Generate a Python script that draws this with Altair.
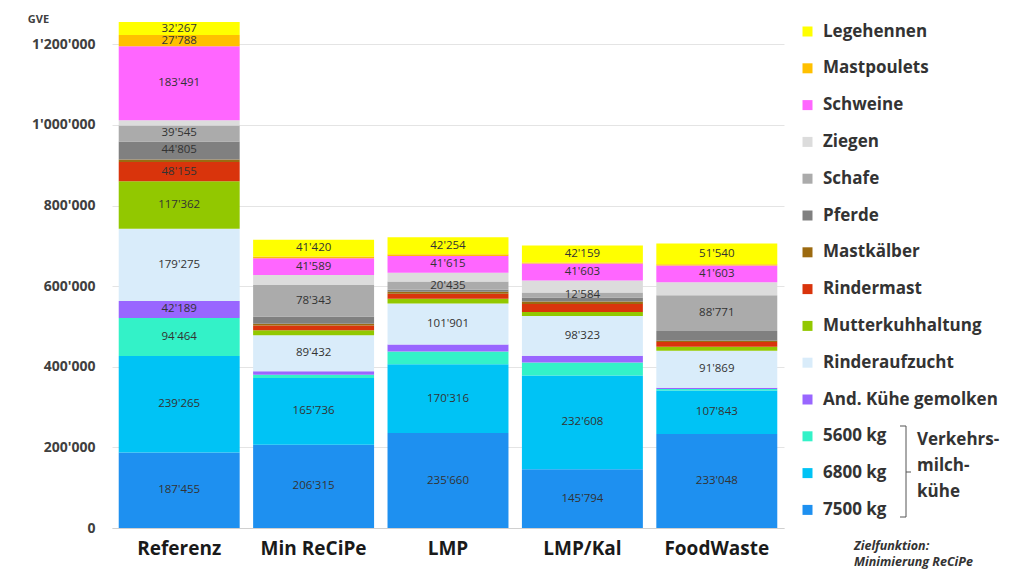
import altair as alt
import pandas as pd

# Scenarios (bars) and livestock categories (legend order, top to bottom)
scenarios = ["Referenz", "Min ReCiPe", "LMP", "LMP/Kal", "FoodWaste"]
categories = [
    "Legehennen", "Mastpoulets", "Schweine", "Ziegen", "Schafe", "Pferde",
    "Mastkälber", "Rindermast", "Mutterkuhhaltung", "Rinderaufzucht",
    "And. Kühe gemolken", "5600 kg", "6800 kg", "7500 kg",
]
colors = [
    "#FFFF00", "#FFC000", "#FF66FF", "#DCDCDC", "#ABABAB", "#808080",
    "#9C6A10", "#D9340C", "#92C800", "#D9ECFA",
    "#9966FF", "#33F2C8", "#00C3F5", "#1E90F0",
]

# GVE per scenario (Referenz, Min ReCiPe, LMP, LMP/Kal, FoodWaste)
legehennen = [32267, 41420, 42254, 42159, 51540]
mastpoulets = [27788, 4000, 4000, 3000, 3000]
schweine = [183491, 41589, 41615, 41603, 41603]
ziegen = [13000, 25000, 22000, 30000, 32000]
schafe = [39545, 78343, 20435, 12584, 88771]
pferde = [44805, 18000, 5000, 10000, 24000]
mastkaelber = [6000, 4000, 5000, 6000, 3000]
rindermast = [48155, 12000, 12000, 20000, 12000]
mutterkuh = [117362, 12000, 12000, 10000, 10000]
rinderaufzucht = [179275, 89432, 101901, 98323, 91869]
andere_kuehe = [42189, 9000, 17000, 17000, 3000]
vmk_5600 = [94464, 8000, 32000, 32000, 4000]
vmk_6800 = [239265, 165736, 170316, 232608, 107843]
vmk_7500 = [187455, 206315, 235660, 145794, 233048]

series = [
    legehennen, mastpoulets, schweine, ziegen, schafe, pferde, mastkaelber,
    rindermast, mutterkuh, rinderaufzucht, andere_kuehe, vmk_5600, vmk_6800, vmk_7500,
]

# Segments that carry a value label
labelled_ref = set(categories) - {"Ziegen", "Mastkälber"}
labelled_other = {"Legehennen", "Schweine", "Schafe", "Rinderaufzucht", "6800 kg", "7500 kg"}


def swiss(v):
    return f"{v:,}".replace(",", "'")


rows = []
for ci, (cat, vals) in enumerate(zip(categories, series)):
    for si, sc in enumerate(scenarios):
        shown = labelled_ref if si == 0 else labelled_other
        rows.append({
            "scenario": sc,
            "category": cat,
            "value": vals[si],
            "idx": len(categories) - 1 - ci,
            "lbl": swiss(vals[si]) if cat in shown else "",
        })
df = pd.DataFrame(rows)

FONT = "Open Sans"
TXT = "#333333"

base = alt.Chart(df).transform_stack(
    stack="value",
    groupby=["scenario"],
    as_=["y0", "y1"],
    sort=[alt.SortField("idx", order="ascending")],
).transform_calculate(mid="(datum.y0 + datum.y1) / 2")

x_enc = alt.X(
    "scenario:N",
    sort=scenarios,
    title=None,
    scale=alt.Scale(paddingInner=0.1, paddingOuter=0.05),
    axis=alt.Axis(
        labelAngle=0, labelFontSize=19, labelFontWeight="bold", labelColor="#1a1a1a",
        labelFont=FONT, ticks=False, labelPadding=11, domainColor="#D0D0D0",
    ),
)
y_scale = alt.Scale(domain=[0, 1300000], nice=False)

bars = base.mark_bar().encode(
    x=x_enc,
    y=alt.Y(
        "y0:Q",
        scale=y_scale,
        axis=alt.Axis(
            values=[0, 200000, 400000, 600000, 800000, 1000000, 1200000],
            labelExpr="join(split(format(datum.value, ','), ','), \"'\")",
            labelFontSize=14, labelColor="#404040", labelFont=FONT, labelFontWeight="bold",
            ticks=False, domain=False, labelPadding=17,
            gridColor="#E4E4E4", gridWidth=1,
            title="GVE", titleAngle=0, titleX=-74, titleY=15, titleAlign="center",
            titleBaseline="middle", titleFontSize=11, titleFontWeight="bold",
            titleColor="#404040", titleFont=FONT,
        ),
    ),
    y2="y1:Q",
    color=alt.Color(
        "category:N",
        scale=alt.Scale(domain=categories, range=colors),
        legend=alt.Legend(
            title=None, orient="none", legendX=687, legendY=19,
            symbolType="square", symbolSize=100, symbolStrokeWidth=0,
            labelFontSize=17, labelFontWeight="bold", labelColor=TXT, labelFont=FONT,
            rowPadding=18.8, labelOffset=7, labelLimit=260,
        ),
    ),
    order=alt.Order("idx:Q", sort="ascending"),
)

labels = base.transform_filter("datum.lbl != ''").mark_text(
    fontSize=11.5, color=TXT, font=FONT, baseline="middle"
).encode(
    x=alt.X("scenario:N", sort=scenarios),
    y=alt.Y("mid:Q", scale=y_scale),
    text="lbl:N",
)

one = pd.DataFrame({"k": [0]})

# Bracket grouping the three dairy-cow classes
bracket_v = alt.Chart(one).mark_rule(color="#555555", strokeWidth=1).encode(
    x=alt.value(794), y=alt.value(422), y2=alt.value(513)
)
bracket_top = alt.Chart(one).mark_rule(color="#555555", strokeWidth=1).encode(
    x=alt.value(788), x2=alt.value(794), y=alt.value(422)
)
bracket_bot = alt.Chart(one).mark_rule(color="#555555", strokeWidth=1).encode(
    x=alt.value(788), x2=alt.value(794), y=alt.value(513)
)
bracket_mid = alt.Chart(one).mark_rule(color="#555555", strokeWidth=1).encode(
    x=alt.value(794), x2=alt.value(799), y=alt.value(468)
)
group_text = alt.Chart(one).mark_text(
    align="left", baseline="top", fontSize=17, fontWeight="bold", color=TXT,
    font=FONT, lineHeight=26,
).encode(
    x=alt.value(805), y=alt.value(428),
    text=alt.value(["Verkehrs-", "milch-", "kühe"]),
)
objective_text = alt.Chart(one).mark_text(
    align="left", baseline="middle", fontSize=12.5, fontWeight="bold",
    fontStyle="italic", color=TXT, font=FONT, lineHeight=16,
).encode(
    x=alt.value(742), y=alt.value(542),
    text=alt.value(["Zielfunktion:", "Minimierung ReCiPe"]),
)

chart = alt.layer(
    bars, labels, bracket_v, bracket_top, bracket_bot, bracket_mid,
    group_text, objective_text,
).properties(
    width=672,
    height=524,
    autosize=alt.AutoSizeParams(type="none"),
    padding={"left": 112, "top": 4, "right": 227, "bottom": 42},
    background="white",
).configure_view(stroke=None)

chart.save("out.html", embed_options={"renderer": "svg", "actions": False})
